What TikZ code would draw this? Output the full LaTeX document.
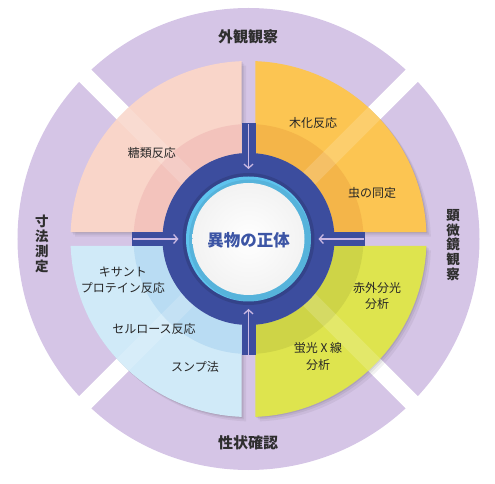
\documentclass[tikz,border=0pt]{standalone}
\usepackage{fontspec}
\setmainfont{Noto Sans CJK JP}
\usetikzlibrary{arrows.meta}
\definecolor{ringpurple}{HTML}{D5C5E6}
\definecolor{pkout}{HTML}{F9D5C9}
\definecolor{pkin}{HTML}{F3C3BC}
\definecolor{orout}{HTML}{FCC552}
\definecolor{orin}{HTML}{F4B549}
\definecolor{blout}{HTML}{D0EAF8}
\definecolor{blin}{HTML}{B9DCF3}
\definecolor{ylout}{HTML}{DEE44E}
\definecolor{ylin}{HTML}{CED447}
\definecolor{navy}{HTML}{3C4D9E}
\definecolor{skyring}{HTML}{5EC3EE}
\definecolor{centertext}{HTML}{3C55A5}
\definecolor{arrowc}{HTML}{CBB9E3}
\definecolor{hdrtext}{HTML}{2E2E2E}
% quadrant sector: rotation, inner radius, outer radius
\newcommand\qshape[3]{({#1+acos(7/#3)}:#3pt) arc[start angle={#1+acos(7/#3)},end angle={#1+asin(7/#3)},radius=#3pt] -- ({#1+asin(7/#2)}:#2pt) arc[start angle={#1+asin(7/#2)},end angle={#1+acos(7/#2)},radius=#2pt] -- cycle}
\begin{document}
\begin{tikzpicture}[x=1pt,y=1pt,
  lbl/.style={font=\fontsize{12}{16}\selectfont, text=black!85, align=center, inner sep=0pt},
  hdr/.style={font=\fontsize{15}{15}\selectfont\bfseries, text=hdrtext, inner sep=0pt},
  vhdr/.style={font=\fontsize{13.5}{14.8}\selectfont\bfseries, text=hdrtext, align=center, inner sep=0pt},
  inarrow/.style={draw=arrowc, line width=1.3pt, -{Straight Barb[length=4pt,width=9pt,line width=1.3pt]}}]
\useasboundingbox (-248.5,-245) rectangle (246.5,239);
% outer purple ring with diagonal gaps
\fill[ringpurple] (0,0) circle[radius=231pt];
\foreach \a in {45,135,225,315}
  \fill[white,rotate=\a] (0,-8.5) rectangle (240,8.5);
% shadows of quadrants
\foreach \r in {0,90,180,270}{
  \foreach \s/\o in {1/0.08,2.5/0.06,4.5/0.05}
    \fill[black,opacity=\o,shift={(\s,-\s)}] \qshape{\r}{86}{178};
}
% quadrants
\foreach \r/\co/\ci in {0/orout/orin,90/pkout/pkin,180/blout/blin,270/ylout/ylin}{
  \fill[\co] \qshape{\r}{86}{178};
  \fill[\ci] \qshape{\r}{86}{115};
  \begin{scope}
    \clip \qshape{\r}{86}{178};
    \fill[white,opacity=0.16,rotate=\r+45] (0,-8.5) rectangle (200,8.5);
  \end{scope}
}
% dark blue core and bars
\fill[navy] (0,0) circle[radius=86pt];
\fill[navy] (-7,80) rectangle (7,116);
\fill[navy] (-7,-80) rectangle (7,-116);
\fill[navy] (-116,-7) rectangle (-80,7);
\fill[navy] (116,-7) rectangle (80,7);
\fill[black,opacity=0.12] (0,0) circle[radius=66pt];
% light blue ring and white centre
\fill[skyring] (0,0) circle[radius=62.5pt];
\fill[black,opacity=0.08] (1.5,-1.5) circle[radius=61pt];
\shade[inner color=white,outer color=white!90!gray] (0,0) circle[radius=56pt];
% arrows
\coordinate (tA) at (0,115);   \coordinate (tB) at (0,70);
\coordinate (lA) at (-115,0);  \coordinate (lB) at (-70,0);
\coordinate (rA) at (115,0);   \coordinate (rB) at (70,0);
\coordinate (bA) at (0,-116);  \coordinate (bB) at (0,-70);
\draw[inarrow] (tA) -- (tB);
\draw[inarrow] (lA) -- (lB);
\draw[inarrow] (rA) -- (rB);
\draw[inarrow] (bA) -- (bB);
% centre text
\node[font=\fontsize{16.5}{16.5}\selectfont\bfseries, text=centertext, inner sep=0pt] (core) at (0,-1) {異物の正体};
% headers
\node[hdr] (gaikan) at (-0.5,202) {外観観察};
\node[hdr] (seijo) at (-0.5,-204) {性状確認};
\node[vhdr] (sunpo) at (-206.5,-5) {寸\\法\\測\\定};
\node[vhdr] (kenbi) at (204.5,-6) {顕\\微\\鏡\\観\\察};
% quadrant labels
\node[lbl] (toorui) at (-96.5,86) {糖類反応};
\node[lbl] (mokka) at (64.5,116) {木化反応};
\node[lbl] (mushi) at (123.5,46) {虫の同定};
\node[lbl] (xanth) at (-125.5,-41) {キサント\\プロテイン反応};
\node[lbl] (cellu) at (-94.5,-90) {セルロース反応};
\node[lbl] (sump) at (-53.5,-128) {スンプ法};
\node[lbl] (ir) at (128.5,-57) {赤外分光\\分析};
\node[font=\fontsize{12}{17}\selectfont, text=black!85, align=center, inner sep=0pt] (xrf) at (69.5,-117.5) {蛍光 X 線\\分析};
\end{tikzpicture}
\end{document}
